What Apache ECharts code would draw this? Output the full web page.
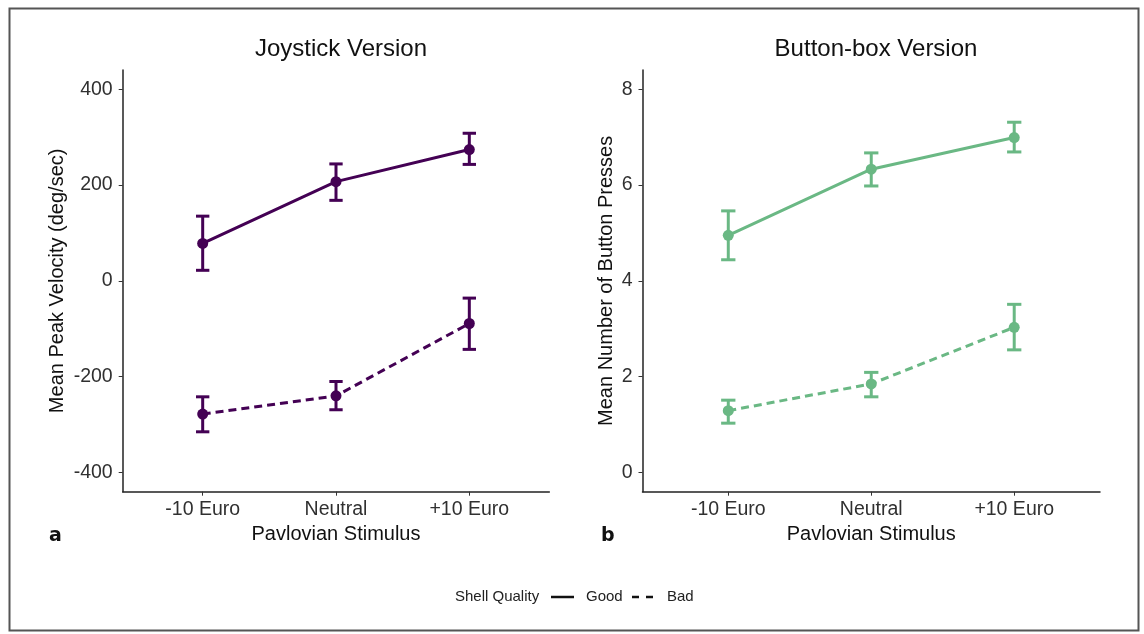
<!DOCTYPE html>
<html>
<head>
<meta charset="utf-8">
<script src="https://cdn.jsdelivr.net/npm/echarts@6/dist/echarts.min.js"></script>
<style>
  html, body { margin: 0; padding: 0; background: #fff; }
  #main { width: 1144px; height: 634px; }
</style>
</head>
<body>
<div id="main"></div>
<script>
// categories (x positions 1,2,3)
var stimuli = ['-10 Euro', 'Neutral', '+10 Euro'];

// Joystick version: mean peak velocity (deg/sec)
var joyGood    = [78, 207, 274];
var joyGoodLo  = [22, 168, 243];
var joyGoodHi  = [135, 244, 308];
var joyBad     = [-278, -240, -89];
var joyBadLo   = [-315, -269, -143];
var joyBadHi   = [-242, -210, -36];
var joyTicks   = [-400, -200, 0, 200, 400];

// Button-box version: mean number of button presses
var boxGood    = [4.95, 6.33, 6.99];
var boxGoodLo  = [4.44, 5.98, 6.69];
var boxGoodHi  = [5.46, 6.67, 7.31];
var boxBad     = [1.29, 1.85, 3.03];
var boxBadLo   = [1.03, 1.58, 2.56];
var boxBadHi   = [1.51, 2.09, 3.51];
var boxTicks   = [0, 2, 4, 6, 8];

var purple = '#440154';
var green  = '#6ab884';
var font   = "'Liberation Sans', Arial, sans-serif";

function pts(vals) {
  return vals.map(function (v, i) { return [i + 1, v]; });
}
function bars(lo, hi) {
  return lo.map(function (v, i) { return [i + 1, v, hi[i]]; });
}

// error bar with caps, cap width 0.1 in x units
function errRender(color) {
  return function (params, api) {
    var x = api.value(0);
    var lo = api.coord([x, api.value(1)]);
    var hi = api.coord([x, api.value(2)]);
    var l = api.coord([x - 0.05, api.value(1)])[0];
    var r = api.coord([x + 0.05, api.value(1)])[0];
    var st = { stroke: color, lineWidth: 3 };
    return {
      type: 'group',
      children: [
        { type: 'line', shape: { x1: lo[0], y1: lo[1], x2: hi[0], y2: hi[1] }, style: st },
        { type: 'line', shape: { x1: l, y1: lo[1], x2: r, y2: lo[1] }, style: st },
        { type: 'line', shape: { x1: l, y1: hi[1], x2: r, y2: hi[1] }, style: st }
      ]
    };
  };
}

function xAxis(idx) {
  return {
    type: 'value', gridIndex: idx, min: 0.4, max: 3.6,
    name: 'Pavlovian Stimulus', nameLocation: 'middle', nameGap: 32,
    nameTextStyle: { fontFamily: font, fontSize: 20, color: '#111' },
    axisLine: { onZero: false, lineStyle: { color: '#222', width: 1.5 } },
    axisTick: { show: true, length: 4, customValues: [1, 2, 3], lineStyle: { color: '#333' } },
    axisLabel: {
      customValues: [1, 2, 3], margin: 8,
      fontFamily: font, fontSize: 19.5, color: '#303030',
      formatter: function (v) { return stimuli[Math.round(v) - 1]; }
    },
    splitLine: { show: false }
  };
}

function yAxis(idx, name, min, max, ticks, gap) {
  return {
    type: 'value', gridIndex: idx, min: min, max: max,
    name: name, nameLocation: 'middle', nameGap: gap,
    nameTextStyle: { fontFamily: font, fontSize: 20, color: '#111' },
    axisLine: { show: true, lineStyle: { color: '#222', width: 1.5 } },
    axisTick: { show: true, length: 4, customValues: ticks, lineStyle: { color: '#333' } },
    axisLabel: { customValues: ticks, margin: 10, fontFamily: font, fontSize: 19.5, color: '#303030' },
    splitLine: { show: false }
  };
}

function lineSeries(idx, data, color, dashed) {
  return {
    type: 'line', xAxisIndex: idx, yAxisIndex: idx, data: pts(data),
    symbol: 'circle', symbolSize: 11, color: color,
    itemStyle: { color: color },
    lineStyle: { color: color, width: 3, type: dashed ? [8, 5] : 'solid' },
    animation: false, z: 3
  };
}

function errSeries(idx, lo, hi, color) {
  return {
    type: 'custom', xAxisIndex: idx, yAxisIndex: idx,
    data: bars(lo, hi), renderItem: errRender(color),
    encode: { x: 0, y: [1, 2] }, animation: false, z: 2
  };
}

var chart = echarts.init(document.getElementById('main'), null, { renderer: 'canvas' });

var option = {
  backgroundColor: '#fff',
  animation: false,
  title: [
    { text: 'Joystick Version', left: 336, top: 32, textAlign: 'center',
      textStyle: { fontFamily: font, fontSize: 24, fontWeight: 'normal', color: '#111' } },
    { text: 'Button-box Version', left: 871, top: 32, textAlign: 'center',
      textStyle: { fontFamily: font, fontSize: 24, fontWeight: 'normal', color: '#111' } },
    { text: 'a', left: 44, top: 522,
      textStyle: { fontFamily: 'DejaVu Sans, sans-serif', fontSize: 19, fontWeight: 'bold', color: '#111' } },
    { text: 'b', left: 596, top: 522,
      textStyle: { fontFamily: 'DejaVu Sans, sans-serif', fontSize: 19, fontWeight: 'bold', color: '#111' } }
  ],
  grid: [
    { left: 122.7, right: 594.7, top: 70, bottom: 142.3 },
    { left: 642.5, right: 44, top: 70, bottom: 142.3 }
  ],
  xAxis: [xAxis(0), xAxis(1)],
  yAxis: [
    yAxis(0, 'Mean Peak Velocity (deg/sec)', -440, 440, joyTicks, 55),
    yAxis(1, 'Mean Number of Button Presses', -0.4, 8.4, boxTicks, 26)
  ],
  series: [
    errSeries(0, joyGoodLo, joyGoodHi, purple),
    errSeries(0, joyBadLo, joyBadHi, purple),
    lineSeries(0, joyGood, purple, false),
    lineSeries(0, joyBad, purple, true),
    errSeries(1, boxGoodLo, boxGoodHi, green),
    errSeries(1, boxBadLo, boxBadHi, green),
    lineSeries(1, boxGood, green, false),
    lineSeries(1, boxBad, green, true)
  ],
  graphic: [
    // outer frame
    { type: 'rect', shape: { x: 9.5, y: 8.5, width: 1129, height: 622 },
      style: { fill: null, stroke: '#555', lineWidth: 2 }, silent: true },
    // legend
    { type: 'text', x: 455, y: 597,
      style: { text: 'Shell Quality', font: '15px ' + font, fill: '#222', verticalAlign: 'middle' } },
    { type: 'line', shape: { x1: 551, y1: 597, x2: 574, y2: 597 },
      style: { stroke: '#111', lineWidth: 2.5 } },
    { type: 'text', x: 586, y: 597,
      style: { text: 'Good', font: '15px ' + font, fill: '#222', verticalAlign: 'middle' } },
    { type: 'line', shape: { x1: 632, y1: 597, x2: 654, y2: 597 },
      style: { stroke: '#111', lineWidth: 2.5, lineDash: [7, 7] } },
    { type: 'text', x: 667, y: 597,
      style: { text: 'Bad', font: '15px ' + font, fill: '#222', verticalAlign: 'middle' } }
  ]
};

chart.setOption(option);
</script>
</body>
</html>
